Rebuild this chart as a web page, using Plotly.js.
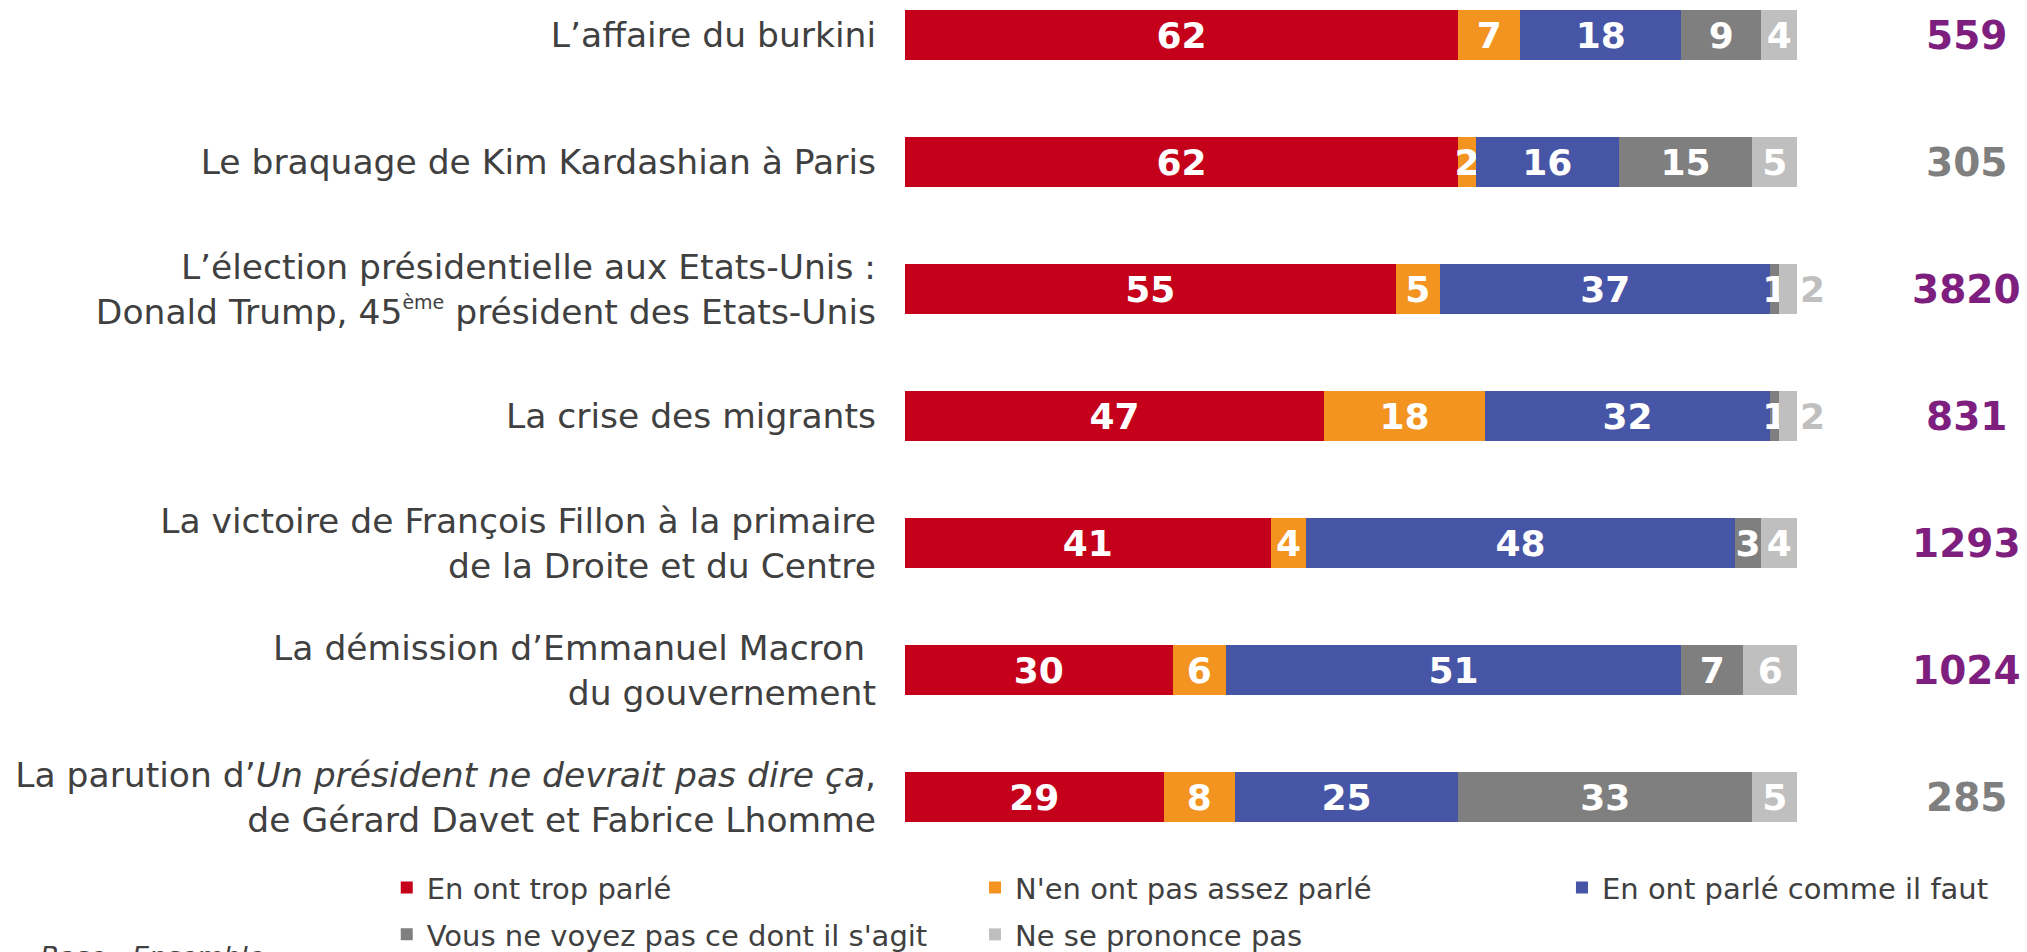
<!DOCTYPE html>
<html>
<head>
<meta charset="utf-8">
<script src="https://cdn.plot.ly/plotly-3.0.1.min.js"></script>
<style>
  html, body { margin: 0; padding: 0; background: #fff; }
  #chart { width: 2027px; height: 952px; }
</style>
</head>
<body>
<div id="chart"></div>
<script>
const categories = [
    'L’affaire du burkini',
    'Le braquage de Kim Kardashian à Paris',
    'L’élection présidentielle aux Etats-Unis :<br>Donald Trump, 45<sup><span style="font-size:19px">ème</span></sup> président des Etats-Unis',
    'La crise des migrants',
    'La victoire de François Fillon à la primaire<br>de la Droite et du Centre',
    'La démission d’Emmanuel Macron&nbsp;<br>du gouvernement',
    'La parution d’<i>Un président ne devrait pas dire ça</i>,<br>de Gérard Davet et Fabrice Lhomme'
];
const seriesNames = [
    'En ont trop parlé',
    "N'en ont pas assez parlé",
    'En ont parlé comme il faut',
    "Vous ne voyez pas ce dont il s'agit",
    'Ne se prononce pas'
];
const tropParle = [62, 62, 55, 47, 41, 30, 29];
const pasAssez = [7, 2, 5, 18, 4, 6, 8];
const commeIlFaut = [18, 16, 37, 32, 48, 51, 25];
const neVoyezPas = [9, 15, 1, 1, 3, 7, 33];
const nsp = [4, 5, 2, 2, 4, 6, 5];
const totals = [559, 305, 3820, 831, 1293, 1024, 285];

const seriesColors = ['#C4001A', '#F39320', '#4655A5', '#7F7F7F', '#BFBFBF'];
const totalColors = ['#7E1F80', '#7F7F7F', '#7E1F80', '#7E1F80', '#7E1F80', '#7E1F80', '#7F7F7F'];
const font = 'DejaVu Sans, Verdana, sans-serif';

// legend grid: 3 columns, 2 rows (paper coords)
const legendCols = [-0.581, 0.0785, 0.7365];
const legendRows = [-0.0025, -0.057];

const seriesValues = [tropParle, pasAssez, commeIlFaut, neVoyezPas, nsp];
const data = seriesValues.map((vals, i) => {
    const last = i === seriesValues.length - 1;
    // the tiny light grey parts get their number printed next to the bar
    const positions = vals.map(v => (last && v < 3) ? 'outside' : 'inside');
    const textColors = positions.map(p => p === 'outside' ? seriesColors[i] : '#FFFFFF');
    return {
        type: 'bar',
        orientation: 'h',
        name: seriesNames[i],
        x: vals,
        y: categories,
        text: vals.map(String),
        textposition: positions,
        insidetextanchor: 'middle',
        textangle: 0,
        textfont: { family: font, size: 36, color: textColors, weight: 'bold' },
        cliponaxis: false,
        marker: { color: seriesColors[i], line: { width: 0 } },
        legend: i === 0 ? 'legend' : 'legend' + (i + 1),
        hoverinfo: 'x+y+name'
    };
});

const annotations = totals.map((t, i) => ({
    xref: 'paper', yref: 'y',
    x: 1.19, y: categories[i],
    xanchor: 'center', yanchor: 'middle',
    text: '<b>' + t + '</b>',
    showarrow: false,
    font: { family: font, size: 39, color: totalColors[i] }
}));
annotations.push({
    xref: 'paper', yref: 'paper',
    x: -0.972, y: -0.092,
    xanchor: 'left', yanchor: 'top',
    text: '<i>Base : Ensemble</i>',
    showarrow: false,
    font: { family: font, size: 27, color: '#404040' }
});

const layout = {
    width: 2027,
    height: 952,
    margin: { l: 905, r: 230, t: 0, b: 92, autoexpand: false },
    barmode: 'stack',
    bargap: 0.6,
    paper_bgcolor: 'white',
    plot_bgcolor: 'white',
    uniformtext: { mode: 'show', minsize: 36 },
    xaxis: {
        range: [0, 100],
        fixedrange: true,
        showgrid: false,
        zeroline: false,
        showticklabels: false,
        showline: false
    },
    yaxis: {
        range: [6.496, -0.276],
        fixedrange: true,
        showgrid: false,
        zeroline: false,
        showline: false,
        ticks: '',
        ticklabelstandoff: 28,
        tickfont: { family: font, size: 34.5, color: '#404040' }
    },
    annotations: annotations,
    showlegend: true
};

// one small legend per entry so each sits at its own grid slot
seriesNames.forEach((name, i) => {
    const key = i === 0 ? 'legend' : 'legend' + (i + 1);
    layout[key] = {
        orientation: 'h',
        xref: 'paper', yref: 'paper',
        xanchor: 'left', yanchor: 'top',
        x: legendCols[i % 3],
        y: legendRows[Math.floor(i / 3)],
        itemwidth: 30,
        bgcolor: 'rgba(0,0,0,0)',
        font: { family: font, size: 29, color: '#404040' }
    };
});

const config = {
    displayModeBar: false,
    responsive: false,
    staticPlot: true
};

Plotly.newPlot('chart', data, layout, config);
</script>
</body>
</html>
